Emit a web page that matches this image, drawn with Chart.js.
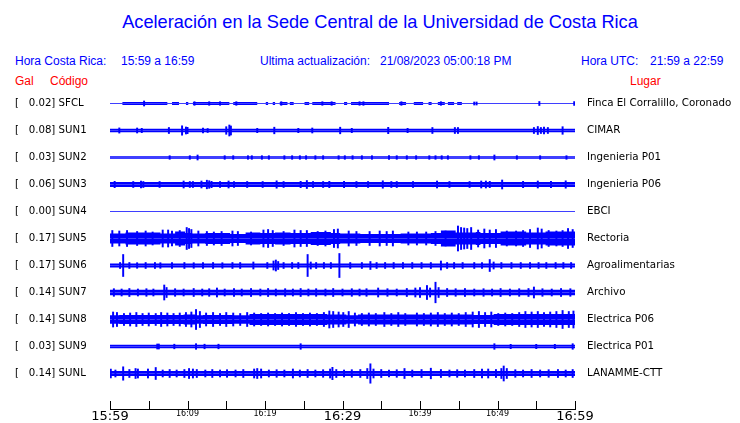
<!DOCTYPE html>
<html lang="es">
<head>
  <meta charset="UTF-8" />
  <title>Aceleración Sede Central</title>
  <script src="https://cdn.jsdelivr.net/npm/chart.js"></script>
  <style>
    * { margin: 0; padding: 0; box-sizing: border-box; }
    body { width: 740px; height: 423px; background: #fff; position: relative; overflow: hidden; }
    .txt { position: absolute; font-family: 'Liberation Sans', Arial, sans-serif; font-size: 12px; color: #0000ff; white-space: pre; line-height: 1; }
    .red { color: #ff0000; }
    #title { left: 0; width: 760px; text-align: center; top: 13px; font-size: 18.2px; }
    #chart { position: absolute; left: 0; top: 0; width: 740px; height: 423px; }
  </style>
</head>
<body>
  <div class="txt" id="title">Aceleración en la Sede Central de la Universidad de Costa Rica</div>
  <div class="txt" style="left:15px; top:55px;">Hora Costa Rica:</div>
  <div class="txt" style="left:121px; top:55px;">15:59 a 16:59</div>
  <div class="txt" style="left:260px; top:55px;">Ultima actualización:</div>
  <div class="txt" style="left:380px; top:55px;">21/08/2023 05:00:18 PM</div>
  <div class="txt" style="left:581px; top:55px;">Hora UTC:</div>
  <div class="txt" style="left:650px; top:55px;">21:59 a 22:59</div>
  <div class="txt red" style="left:15px; top:75px;">Gal</div>
  <div class="txt red" style="left:50px; top:75px;">Código</div>
  <div class="txt red" style="left:630px; top:75px;">Lugar</div>

  <canvas id="chart" width="740" height="423"></canvas>

  <script>
    // ---- stations ----
    const stationCodes = ['SFCL', 'SUN1', 'SUN2', 'SUN3', 'SUN4', 'SUN5', 'SUN6', 'SUN7', 'SUN8', 'SUN9', 'SUNL'];
    const galValues = ['0.02', '0.08', '0.03', '0.06', '0.00', '0.17', '0.17', '0.14', '0.14', '0.03', '0.14'];
    const places = ['Finca El Corralillo, Coronado', 'CIMAR', 'Ingenieria P01', 'Ingenieria P06', 'EBCI', 'Rectoria',
      'Agroalimentarias', 'Archivo', 'Electrica P06', 'Electrica P01', 'LANAMME-CTT'];

    // time axis: minutes after 15:59
    const tickMinutes = [0, 5, 10, 15, 20, 25, 30, 35, 40, 45, 50, 55, 60];
    const tickLabels = ['15:59', '', '16:09', '', '16:19', '', '16:29', '', '16:39', '', '16:49', '', '16:59'];
    const bigTicks = ['15:59', '16:29', '16:59'];

    // envelope steps [minute, half amplitude] and spikes [minute, half amplitude]
    const envSFCL = [[0,1.6],[1.6,0.5],[7.4,1.6],[8,0.5],[8.9,1.6],[9.8,0.5],[10.1,1.6],[10.7,0.5],[15.4,1.6],[15.9,0.5],[19,1.6],[20.1,0.5],
      [20.4,1.6],[21,0.5],[21.3,1.6],[21.9,0.5],[22.9,1.6],[23.2,0.5],[23.7,1.6],[25.1,0.5],[25.7,1.6],[26.1,0.5],[29.1,1.6],[30.2,0.5],
      [30.6,1.6],[31.1,0.5],[36,1.6],[37.3,0.5],[38.2,1.6],[39.2,0.5],[40.4,1.6],[41.1,0.5],[41.5,1.6],[42.3,0.5],[43.2,1.6],[43.6,0.5],
      [44.4,1.6],[44.8,0.5],[45.4,1.6],[46,0.5]];
    const spkSFCL = [[4.4,2.5],[10.9,1.8],[12.8,1.8],[14.2,1.8],[16.3,1.8],[22.1,1.8],[27.4,1.8],[28.6,1.8],[32.2,1.8],[32.7,1.8],[37.6,1.8],
      [42.7,1.8],[47,1.5],[47.3,1.5],[55.4,2],[59.9,2]];

    const envSUN1 = [[0,1.8]];
    const spkSUN1 = [[1.2,2.6],[3.5,2.5],[4.1,2.2],[7.6,3],[9.3,4.7],[9.8,3.5],[10,3.2],[12,2.5],[12.6,2],[15,3.8],[15.4,5.5],
      [15.6,4.5],[19,2.2],[21.2,3.3],[24.3,2.2],[26.1,2.5],[29.7,3.3],[31.2,2.2],[35.9,3.2],[38.4,2.2],[41.6,3],[44.5,3],
      [44.9,3],[54.7,3],[55.2,4],[55.6,3],[56,3.5],[56.5,3],[58.4,3.8]];

    const envSUN2 = [[0,1.3]];
    const spkSUN2 = [[7.7,1.8],[10.3,1.8],[11.3,2.5],[14.8,1.8],[15.9,1.8],[17.8,1.8],[18.3,1.8],[19.6,1.8],[20.5,1.8],
      [22.5,1.8],[23.5,1.8],[24.5,1.8],[25.3,1.8],[26.5,1.8],[27.5,1.8],[29.5,1.8],[30.3,1.8],[31.3,1.8],[32.5,1.8],
      [33.8,1.8],[36,1.8],[37,1.8],[38.3,1.8],[39.5,1.8],[41.2,1.8],[42,1.8],[42.8,1.8],[43.6,1.8],[46.5,1.8],[47.6,1.8],
      [49.6,2.5],[52.5,1.8],[55.5,1.8],[58.9,1.8]];

    const envSUN3 = [[0,2.4]];
    const spkSUN3 = [[0.6,3.2],[3,3],[4,3.5],[4.3,3],[6.4,3],[9.5,3.5],[10.3,3],[10.7,3],[11.8,3.5],[12.5,4.3],[12.8,3.8],
      [13.1,3.2],[14.2,3],[15.3,3.5],[16,3],[17.7,3],[19.7,3],[21.5,3.7],[22.4,3],[24.6,3.2],[25.4,4],[26.2,3],[27.5,3],
      [28.3,3.2],[30.2,3.2],[31.8,3],[33.3,3],[35.2,3.7],[36.3,3],[37,3],[39.1,3],[42.2,3.5],[43.8,3],[46.4,3],[47.9,3.5],
      [48.5,3.5],[49,3.2],[50.6,4.5],[53.3,3.2],[55.2,3.5],[56.9,3.2],[58.8,3.7]];

    const envSUN4 = [[0,0.5]];
    const spkSUN4 = [];

    const envSUN5 = [[0,5.5],[2,5],[6.5,6],[8.4,5],[9.7,7],[10.6,5.5],[12.3,5],[15.5,5.5],[17.5,4.5],[19.4,6],[21.3,5.5],
      [23.3,6],[25.9,5.5],[28.5,6.5],[29.7,5.5],[32.3,5],[37.5,4.5],[41.4,5],[42.7,5.5],[44.6,8],[47.2,6],[47.8,6.5],[50.4,5.5],
      [53.7,7],[56.2,6],[58.8,7]];
    const spkSUN5 = [[0.3,8],[1.2,7.5],[2.2,8],[3.5,7],[4.6,7.5],[5.5,6.5],[6.8,8.5],[7.5,8.5],[8,7.5],[9,8],[9.9,11],
      [10.2,10],[10.5,9],[11.4,7.5],[12.5,7],[13.4,6.5],[14.4,7],[15.8,7.5],[16.5,7],[18.2,6.5],[19.8,8.5],[20.4,9],[21,8],
      [22.4,7],[23.8,8.5],[24.6,8],[25.4,8],[26.8,7],[27.8,7.5],[28.9,9],[29.4,9.5],[30.8,7.5],[31.8,7],[33.5,7],[34.8,7.5],
      [35.7,7],[36.5,7.5],[38.5,6.5],[39.6,6.5],[40.8,6.5],[42,7],[43.3,7.5],[44.9,12.5],[45.3,11],[45.7,10.5],[46.1,10],
      [46.6,11],[47.5,8.5],[48.3,9.5],[49,8.5],[49.8,9],[51.2,7.5],[52.4,7.5],[53.3,8],[54.2,9],[55.2,10.5],[55.7,9.5],
      [56.6,8],[57.6,7.5],[58.4,8],[59.1,10],[59.7,9]];

    const envSUN6 = [[0,2]];
    const spkSUN6 = [[1.3,3],[1.7,11],[2.5,3],[3.5,2.8],[4.6,3],[5.8,3],[6.5,2.8],[8,3],[9.6,3],[10.8,2.8],[12,3],[13.3,3],
      [14.5,2.8],[15.8,3],[16.8,3],[18.5,3.5],[20.3,3],[21.1,4.5],[21.4,5.5],[21.7,4],[22.4,3],[23.5,3],[24.3,3],[25.5,11],
      [25.9,3.5],[26.6,3],[27.6,3],[28.5,3],[29.6,12],[31,3],[32.5,3],[33.6,4],[34.4,3],[35.5,3],[36.6,3],[37.8,3],[39,3],
      [40.2,3],[41.4,3],[42.7,4.5],[43.5,3],[44.4,3],[45.5,3],[47,3],[48,3],[49,6],[49.5,3.5],[50.5,3],[51.8,3],[53,3],
      [54.2,3],[55.3,3],[56.3,3],[57.5,3],[58.5,3],[59.5,3]];

    const envSUN7 = [[0,2.7]];
    const spkSUN7 = [[0.5,3.8],[1.5,3.5],[2.5,4],[3.6,3.5],[4.7,3.8],[5.6,3.5],[7,7.5],[7.3,5],[8.4,3.8],[9.5,3.5],[10.8,4],
      [11.9,3.5],[12.8,3.8],[13.8,4.5],[14.8,3.5],[16,3.8],[17,3.5],[18.2,4],[19.4,3.5],[20.4,4],[21.4,3.5],[22.6,3.8],
      [23.6,3.5],[24.6,4],[25.6,3.5],[26.6,3.8],[27.8,3.5],[28.8,4],[30,3.5],[31.2,3.8],[32.2,3.5],[33.1,3.8],[34.6,4.5],
      [35.8,3.8],[37,3.5],[38.3,4],[39.4,4.5],[40,5],[40.9,7],[41.3,4.5],[42,10.3],[42.4,5],[43.5,4],[44.6,3.8],[45.8,4],
      [47,3.5],[48.2,3.8],[49.3,3.5],[50.4,4],[51.6,3.5],[52.8,3.8],[54,4],[54.7,5.5],[55.8,3.8],[57,3.5],[58.2,4],[59.4,3.8]];

    const envSUN8 = [[0,5],[1.2,4.2],[9.5,4.5],[11,5],[12,4.2],[16,4.5],[18,4.2],[28,5.5],[30.5,5],[32,4.2],[46.8,5],[49.5,4.5],[53,5.5]];
    const spkSUN8 = [[0.4,7.5],[0.9,7],[1.8,6],[2.6,6.5],[3.4,7],[4.2,6],[5,6.5],[5.9,6],[6.6,7],[7.4,6.5],[8.2,6],[9,6.5],
      [9.8,7],[10.5,7.5],[11.1,10],[11.6,8],[12.4,6.5],[13.3,7],[14.2,6],[15,7],[15.9,6.5],[16.8,6],[17.7,7],[18.6,6.5],
      [19.5,6],[20.4,6.5],[21.3,6],[22.2,6.5],[23.1,6],[24,7],[24.9,6],[25.8,6.5],[26.7,6],[27.6,7],[28.3,8.5],[28.8,8],
      [29.5,7.5],[30.1,7],[30.8,8],[31.6,6.5],[32.5,6],[33.4,6.5],[34.3,6],[35.4,7],[36.3,6],[37.2,7],[38.1,6],[39.6,6.5],
      [40.5,6],[41.4,6.5],[42.3,7],[43.2,6],[44.1,6.5],[45,6],[45.9,7],[46.8,7.5],[47.6,8],[48.4,7],[49.2,7.5],[50.1,6],
      [51,6.5],[51.9,6],[52.8,7],[53.6,8],[54.4,7.5],[55.2,8],[56,7],[56.8,7.5],[57.6,8],[58.4,9],[59.2,8],[59.8,8.5]];

    const envSUN9 = [[0,1.7]];
    const spkSUN9 = [[6.1,2.5],[6.3,2.5],[8.3,2.3],[11.1,2.8],[12.2,2.3],[14,2.3],[24.6,2.8],[49.6,2.8],[51.7,2.2],
      [55,2.2],[57.4,2.2],[59.7,2.8]];

    const envSUNL = [[0,2.6]];
    const spkSUNL = [[0.1,4.5],[0.7,3.5],[1.7,6.7],[2.5,4],[3.3,5],[3.6,4.5],[4.9,4.5],[5.9,6],[6.8,3.5],[7.7,4],[8.6,3.5],
      [9.6,4],[10.2,5],[10.7,4.5],[11.2,4],[12.3,3.5],[13.2,4],[14.2,3.5],[15.1,3.8],[16.2,3.5],[17.2,4],[18.6,4.5],[19,5],
      [19.5,4.5],[20.5,3.5],[21.5,3.8],[22.5,3.5],[23.6,4.5],[24.5,3.5],[25.5,4],[26.5,3.5],[27.5,3.8],[28.4,4.5],[28.7,6.2],
      [29.2,4],[30.2,3.5],[31.2,3.8],[32.3,4],[33.2,5],[33.6,9.7],[34,4.5],[35,4],[36,3.5],[37,3.8],[38,5],[39,3.5],[40.2,4],
      [41.4,5.3],[42.7,4],[43.8,3.5],[44.8,3.8],[45.8,3.5],[47,4],[48,4.5],[48.8,4.5],[49.8,4],[50.5,5],[50.8,7.5],[51.2,5],
      [52.3,3.8],[53.3,3.5],[54.4,4],[55.5,3.5],[56.6,3.8],[57.8,4],[58.8,3.5],[59.7,4]];

    const envelopes = [envSFCL, envSUN1, envSUN2, envSUN3, envSUN4, envSUN5, envSUN6, envSUN7, envSUN8, envSUN9, envSUNL];
    const spikes = [spkSFCL, spkSUN1, spkSUN2, spkSUN3, spkSUN4, spkSUN5, spkSUN6, spkSUN7, spkSUN8, spkSUN9, spkSUNL];

    // ---- layout of the rows (amplitude units) ----
    const ROW_GAP = 27;
    const FIRST_ROW = 13.5;
    const Y_SPAN = 319;
    const BLUE = '#0000ff';
    const rowCenter = i => FIRST_ROW + ROW_GAP * i;
    const rowTicks = stationCodes.map((s, i) => ({ value: rowCenter(i) }));
    const rowIndex = v => Math.round((v - FIRST_ROW) / ROW_GAP);

    const datasets = [];
    envelopes.forEach((env, i) => {
      const c = rowCenter(i);
      const pts = env.concat([[60, env[env.length - 1][1]]]);
      [-1, 1].forEach(sign => {
        datasets.push({
          type: 'line',
          data: pts.map(p => ({ x: p[0], y: c + sign * p[1] })),
          stepped: 'after',
          fill: { value: c },
          borderColor: 'transparent',
          borderWidth: 0,
          backgroundColor: BLUE,
          pointRadius: 0
        });
      });
    });

    const spikeData = [];
    spikes.forEach((list, i) => {
      const c = rowCenter(i);
      list.forEach(p => spikeData.push({ x: p[0], y: [c - p[1], c + p[1]] }));
    });
    datasets.push({
      type: 'bar',
      data: spikeData,
      backgroundColor: BLUE,
      borderWidth: 0,
      barThickness: 1.3
    });

    // upward tick marks on the time axis
    const upTicks = {
      id: 'upTicks',
      afterDraw(chart) {
        const { ctx, scales: { x }, chartArea } = chart;
        ctx.save();
        ctx.strokeStyle = '#000';
        ctx.lineWidth = 1;
        ctx.beginPath();
        tickMinutes.forEach(m => {
          const px = Math.round(x.getPixelForValue(m)) + 0.5;
          ctx.moveTo(px, chartArea.bottom);
          ctx.lineTo(px, chartArea.bottom - 8);
        });
        ctx.stroke();
        ctx.restore();
      }
    };

    new Chart(document.getElementById('chart'), {
      type: 'bar',
      data: { datasets },
      plugins: [upTicks],
      options: {
        responsive: false,
        maintainAspectRatio: false,
        animation: false,
        devicePixelRatio: 1,
        layout: { padding: { left: 15, top: 90, right: 0, bottom: 0 } },
        plugins: { legend: { display: false }, tooltip: { enabled: false }, title: { display: false } },
        scales: {
          x: {
            type: 'linear',
            min: 0,
            max: 60,
            offset: false,
            afterFit: s => { s.height = 14; },
            afterBuildTicks: s => { s.ticks = tickMinutes.map(v => ({ value: v })); },
            grid: { display: false, drawTicks: false },
            border: { display: true, color: '#000', width: 1 },
            ticks: {
              autoSkip: false,
              maxRotation: 0,
              padding: 1,
              color: '#000',
              callback: (v, idx) => tickLabels[idx],
              font: ctx => ({
                family: 'DejaVu Sans',
                lineHeight: 1,
                size: bigTicks.includes(tickLabels[ctx.index]) ? 13 : 8
              })
            }
          },
          y: {
            type: 'linear',
            position: 'left',
            min: 0,
            max: Y_SPAN,
            reverse: true,
            afterFit: s => { s.width = 95; },
            afterBuildTicks: s => { s.ticks = rowTicks.map(t => ({ value: t.value })); },
            grid: { display: false, drawTicks: false },
            border: { display: false },
            ticks: {
              crossAlign: 'far',
              color: '#000',
              font: { family: 'DejaVu Sans', size: 10.2 },
              callback: v => '[   ' + galValues[rowIndex(v)] + '] ' + stationCodes[rowIndex(v)]
            }
          },
          y2: {
            type: 'linear',
            position: 'right',
            min: 0,
            max: Y_SPAN,
            reverse: true,
            afterFit: s => { s.width = 165; },
            afterBuildTicks: s => { s.ticks = rowTicks.map(t => ({ value: t.value })); },
            // tick length (not drawn) gives the gap before the place names
            grid: { display: false, drawTicks: true, tickLength: 12 },
            border: { display: false },
            ticks: {
              padding: 0,
              color: '#000',
              font: { family: 'DejaVu Sans', size: 10.3 },
              callback: v => places[rowIndex(v)]
            }
          }
        }
      }
    });
  </script>
</body>
</html>
